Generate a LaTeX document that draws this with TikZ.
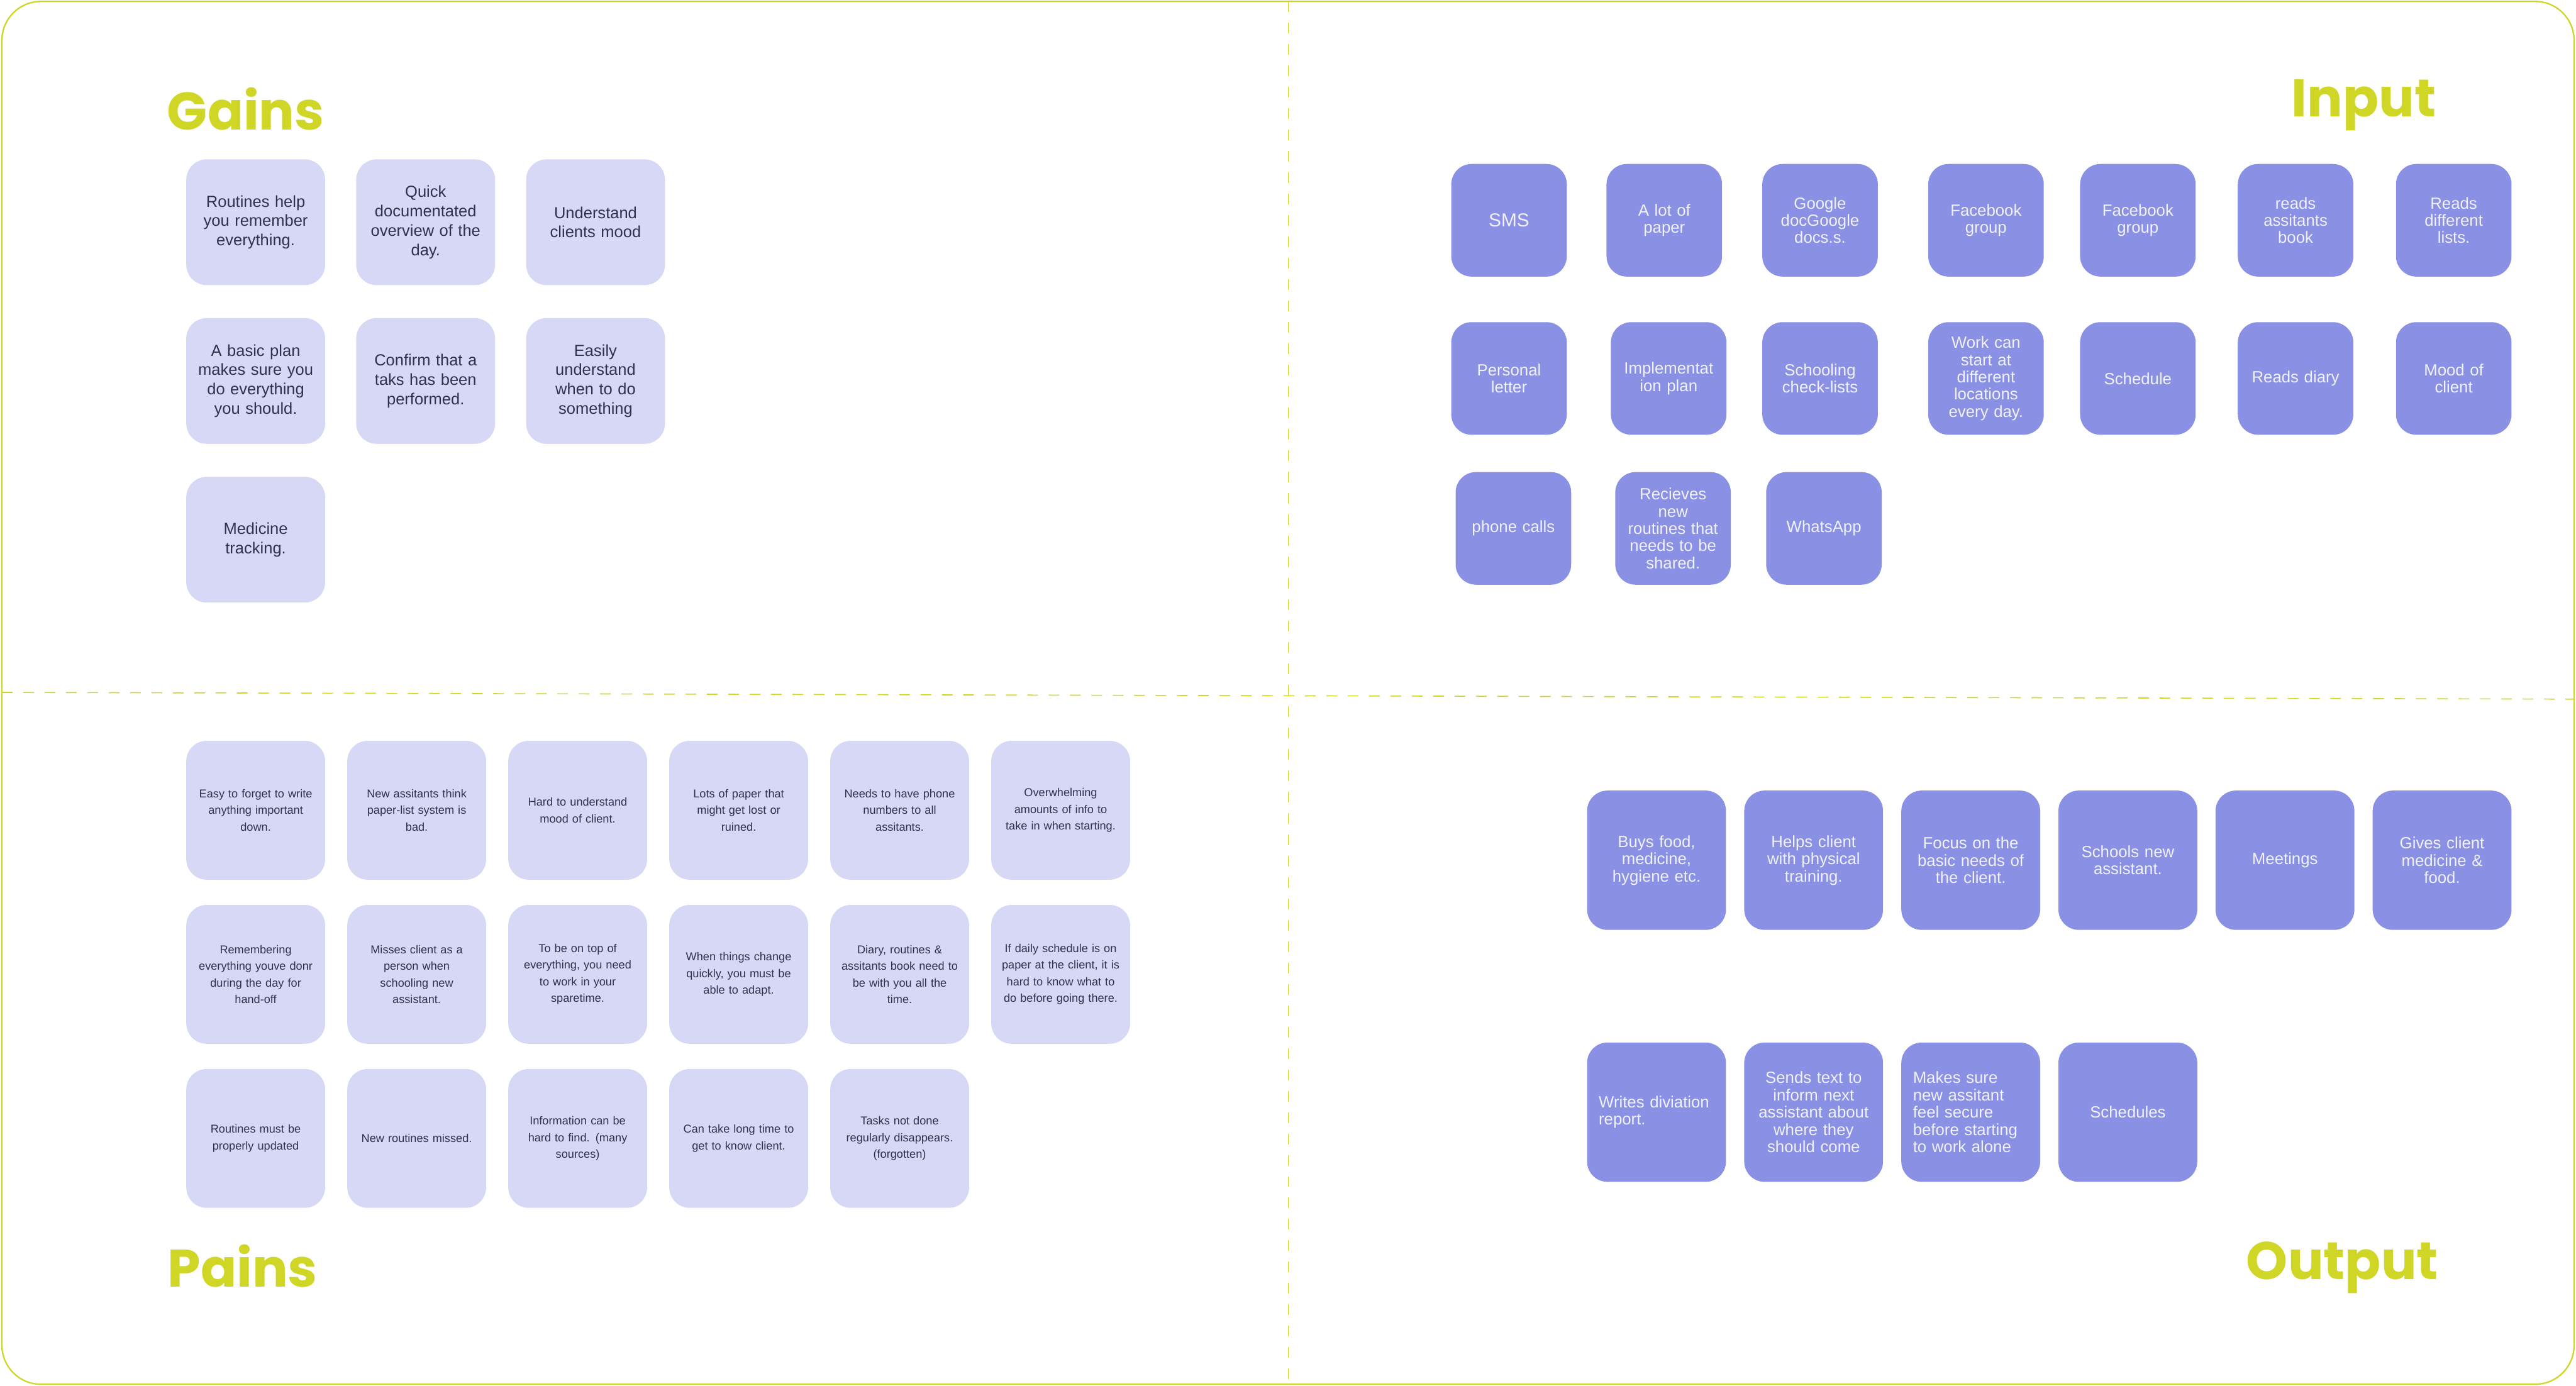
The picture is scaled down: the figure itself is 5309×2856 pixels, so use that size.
\documentclass[tikz,border=0pt]{standalone}
\usepackage{fontspec}
\setmainfont{Liberation Sans}
\newfontfamily\titlefont{Poppins}
\usepackage{xcolor}
\usepackage{tikz}
\usetikzlibrary{positioning}
\definecolor{mapLime}{HTML}{D0D625}
\definecolor{mapSoft}{HTML}{D7D8F5}
\definecolor{mapViolet}{HTML}{8A91E4}
\definecolor{mapInk}{HTML}{2F3150}
\definecolor{mapPale}{HTML}{F0F1FB}

\begin{document}
\begin{tikzpicture}[
        x=0.01cm, y=-0.01cm,
        frame/.style={draw=mapLime, line width=0.85pt, rounded corners=0.8cm},
        divider/.style={draw=mapLime, line width=0.6pt, dash pattern=on 0.22cm off 0.22cm},
        heading/.style={anchor=base west, inner sep=0pt, text=mapLime, font=\titlefont\bfseries\fontsize{31}{31}\selectfont},
        gain/.style={fill=mapSoft, rounded corners=0.42cm, minimum width=2.86cm, minimum height=2.59cm, inner sep=0pt, outer sep=0pt, text width=2.72cm, align=center, text=mapInk, font=\fontsize{9.4}{11.4}\selectfont},
        pain/.style={gain, minimum height=2.86cm, font=\fontsize{6.7}{9.7}\selectfont},
        channel/.style={fill=mapViolet, rounded corners=0.42cm, minimum width=2.38cm, minimum height=2.32cm, inner sep=0pt, outer sep=0pt, text width=2.24cm, align=center, text=mapPale, font=\fontsize{9.5}{10.1}\selectfont},
        task/.style={channel, minimum width=2.86cm, minimum height=2.87cm, text width=2.64cm},
        tasknote/.style={task, text width=2.38cm, align=left}
    ]
        \useasboundingbox (0,0) rectangle (5309,2856);
        \draw[frame] (4,3) rectangle (5305,2853);
        \draw[divider] (2655,3) -- (2655,2853);
        \draw[divider] (4,1427) -- (5305,1441);

        \node[heading] (gainstitle) at (344,267) {Gains};
        \node[heading] (inputtitle) at (4722,241) {Input};
        \node[heading] (painstitle) at (345,2653) {Pains};
        \node[heading] (outputtitle) at (4629,2637) {Output};

        \begin{scope}[node distance=0.68cm and 0.64cm]
        \node[gain] (routines) at (527,458) {Routines help\\you remember\\everything.};
        \node[gain, right=of routines] (overview) {Quick\\documentated\\overview of the\\day.};
        \node[gain, right=of overview] (clientmood) {Understand\\clients mood};
        \node[gain, below=of routines] (basicplan) {A basic plan\\makes sure you\\do everything\\you should.};
        \node[gain, right=of basicplan] (confirmtask) {Confirm that a\\taks has been\\performed.};
        \node[gain, right=of confirmtask] (whentodo) {Easily\\understand\\when to do\\something};
        \node[gain, below=of basicplan] (medicine) {Medicine\\tracking.};
        \end{scope}

        \begin{scope}[node distance=0.52cm and 0.456cm]
        \node[pain] (forgetwrite) at (527,1670) {Easy to forget to write\\anything important\\down.};
        \node[pain, right=of forgetwrite] (paperlist) {New assitants think\\paper-list system is\\bad.};
        \node[pain, right=of paperlist] (hardmood) {Hard to understand\\mood of client.};
        \node[pain, right=of hardmood] (lostpaper) {Lots of paper that\\might get lost or\\ruined.};
        \node[pain, right=of lostpaper] (phonenumbers) {Needs to have phone\\numbers to all\\assitants.};
        \node[pain, right=of phonenumbers] (overwhelm) {Overwhelming\\amounts of info to\\take in when starting.};
        \node[pain, below=of forgetwrite] (remember) {Remembering\\everything youve donr\\during the day for\\hand-off};
        \node[pain, right=of remember] (missclient) {Misses client as a\\person when\\schooling new\\assistant.};
        \node[pain, right=of missclient] (sparetime) {To be on top of\\everything, you need\\to work in your\\sparetime.};
        \node[pain, right=of sparetime] (adapt) {When things change\\quickly, you must be\\able to adapt.};
        \node[pain, right=of adapt] (carrybooks) {Diary, routines \&\\assitants book need to\\be with you all the\\time.};
        \node[pain, right=of carrybooks] (dailyschedule) {If daily schedule is on\\paper at the client, it is\\hard to know what to\\do before going there.};
        \node[pain, below=of remember] (updated) {Routines must be\\properly updated};
        \node[pain, right=of updated] (newmissed) {New routines missed.};
        \node[pain, right=of newmissed] (hardfind) {Information can be\\hard to find. (many\\sources)};
        \node[pain, right=of hardfind] (knowclient) {Can take long time to\\get to know client.};
        \node[pain, right=of knowclient] (disappear) {Tasks not done\\regularly disappears.\\(forgotten)};
        \end{scope}

        \node[channel, font=\fontsize{11}{12}\selectfont] (sms) at (3110,454) {SMS};
        \node[channel] (paper) at (3430,454) {A lot of\\paper};
        \node[channel] (gdocs) at (3751,454) {Google\\docGoogle\\docs.s.};
        \node[channel] (facebook) at (4093,454) {Facebook\\group};
        \node[channel] (facebooktwo) at (4406,454) {Facebook\\group};
        \node[channel] (assistbook) at (4731,454) {reads\\assitants\\book};
        \node[channel] (difflists) at (5057,454) {Reads\\different\\lists.};
        \node[channel] (letter) at (3110,780) {Personal\\letter};
        \node[channel] (implplan) at (3439,780) {Implementat\\ion plan};
        \node[channel] (checklists) at (3751,780) {Schooling\\check-lists};
        \node[channel] (locations) at (4093,780) {Work can\\start at\\different\\locations\\every day.};
        \node[channel] (schedule) at (4406,780) {Schedule};
        \node[channel] (diary) at (4731,780) {Reads diary};
        \node[channel] (moodclient) at (5057,780) {Mood of\\client};
        \node[channel] (phonecalls) at (3119,1089) {phone calls};
        \node[channel] (newroutines) at (3448,1089) {Recieves\\new\\routines that\\needs to be\\shared.};
        \node[channel] (whatsapp) at (3759,1089) {WhatsApp};

        \begin{scope}[node distance=2.32cm and 0.376cm]
        \node[task] (buys) at (3414,1773) {Buys food,\\medicine,\\hygiene etc.};
        \node[task, right=of buys] (training) {Helps client\\with physical\\training.};
        \node[task, right=of training] (basicneeds) {Focus on the\\basic needs of\\the client.};
        \node[task, right=of basicneeds] (schools) {Schools new\\assistant.};
        \node[task, right=of schools] (meetings) {Meetings};
        \node[task, right=of meetings] (gives) {Gives client\\medicine \&\\food.};
        \node[tasknote, below=of buys] (deviation) {Writes diviation\\report.};
        \node[task, right=of deviation] (sendtext) {Sends text to\\inform next\\assistant about\\where they\\should come};
        \node[tasknote, right=of sendtext] (secure) {Makes sure\\new assitant\\feel secure\\before starting\\to work alone};
        \node[task, right=of secure] (schedules) {Schedules};
        \end{scope}
    \end{tikzpicture}
\end{document}
